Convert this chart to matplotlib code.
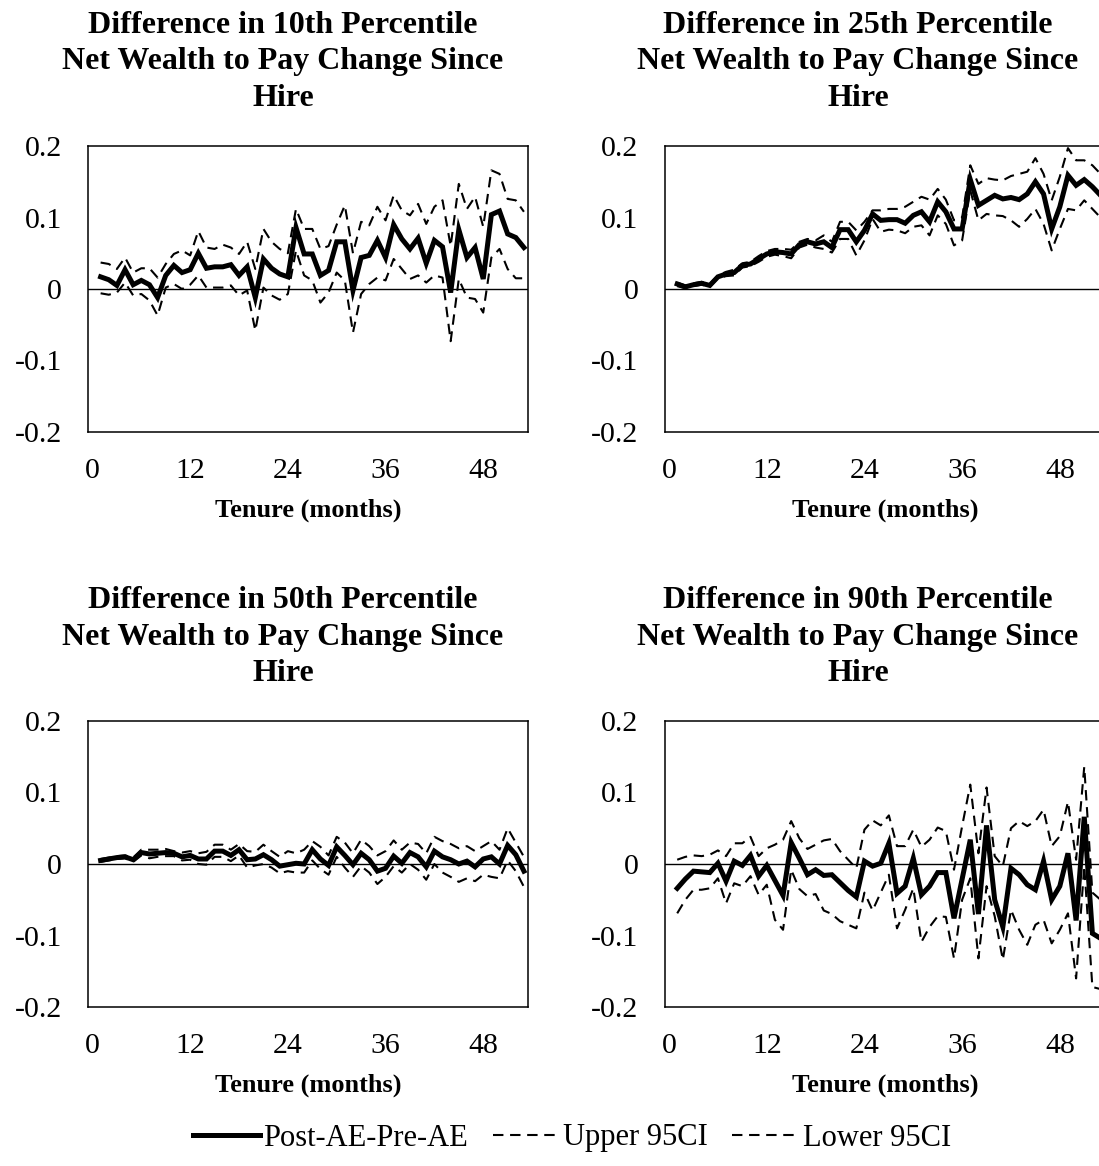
import matplotlib.pyplot as plt
from matplotlib.ticker import FuncFormatter

plt.rcParams['font.family'] = ['Liberation Serif', 'DejaVu Serif']

months = list(range(1, 54))
xticks = [0, 12, 24, 36, 48]
yticks = [-0.2, -0.1, 0, 0.1, 0.2]

# 10th percentile
p10_diff = [0.017, 0.013, 0.005, 0.027, 0.006, 0.012, 0.006, -0.012, 0.019, 0.033,
            0.023, 0.027, 0.050, 0.029, 0.031, 0.031, 0.034, 0.019, 0.031, -0.012,
            0.042, 0.029, 0.021, 0.017, 0.086, 0.049, 0.049, 0.019, 0.026, 0.066,
            0.066, -0.002, 0.044, 0.047, 0.068, 0.044, 0.090, 0.070, 0.056, 0.071,
            0.036, 0.068, 0.059, -0.005, 0.083, 0.044, 0.058, 0.014, 0.104, 0.109,
            0.077, 0.072, 0.058]
p10_upper = [0.037, 0.035, 0.028, 0.044, 0.023, 0.029, 0.029, 0.016, 0.035, 0.049,
             0.054, 0.047, 0.081, 0.058, 0.056, 0.062, 0.058, 0.049, 0.066, 0.028,
             0.084, 0.066, 0.056, 0.050, 0.112, 0.084, 0.084, 0.056, 0.060, 0.090,
             0.117, 0.050, 0.094, 0.089, 0.115, 0.096, 0.131, 0.110, 0.103, 0.119,
             0.091, 0.115, 0.124, 0.060, 0.147, 0.112, 0.129, 0.087, 0.166, 0.161,
             0.126, 0.124, 0.108]
p10_lower = [-0.006, -0.008, -0.005, 0.009, -0.009, -0.007, -0.016, -0.037, 0.002, 0.007,
             0.000, 0.006, 0.019, 0.002, 0.002, 0.002, 0.005, -0.009, -0.002, -0.058,
             0.002, -0.009, -0.015, -0.007, 0.054, 0.019, 0.012, -0.019, -0.005, 0.023,
             0.012, -0.061, -0.007, 0.007, 0.016, 0.012, 0.042, 0.028, 0.014, 0.019,
             0.009, 0.019, 0.016, -0.073, 0.014, -0.012, -0.014, -0.033, 0.044, 0.056,
             0.028, 0.015, 0.015]

# 25th percentile
p25_diff = [0.007, 0.003, 0.006, 0.008, 0.005, 0.017, 0.021, 0.023, 0.033, 0.035,
            0.042, 0.049, 0.052, 0.051, 0.049, 0.062, 0.066, 0.063, 0.066, 0.058,
            0.083, 0.083, 0.066, 0.082, 0.105, 0.096, 0.097, 0.097, 0.092, 0.103,
            0.108, 0.094, 0.122, 0.108, 0.084, 0.084, 0.153, 0.117, 0.124, 0.131,
            0.126, 0.128, 0.125, 0.133, 0.150, 0.133, 0.084, 0.115, 0.159, 0.145,
            0.153, 0.143, 0.131]
p25_upper = [0.009, 0.005, 0.008, 0.010, 0.007, 0.019, 0.024, 0.027, 0.036, 0.038,
             0.046, 0.053, 0.056, 0.056, 0.055, 0.066, 0.070, 0.068, 0.075, 0.066,
             0.094, 0.094, 0.082, 0.094, 0.110, 0.110, 0.112, 0.112, 0.115, 0.122,
             0.129, 0.125, 0.140, 0.125, 0.096, 0.100, 0.173, 0.147, 0.155, 0.153,
             0.152, 0.158, 0.161, 0.164, 0.183, 0.161, 0.124, 0.157, 0.197, 0.180,
             0.180, 0.173, 0.161]
p25_lower = [0.004, 0.001, 0.004, 0.006, 0.003, 0.015, 0.018, 0.019, 0.030, 0.032,
             0.038, 0.045, 0.048, 0.046, 0.043, 0.058, 0.062, 0.058, 0.056, 0.051,
             0.070, 0.070, 0.047, 0.068, 0.098, 0.080, 0.083, 0.082, 0.078, 0.087,
             0.089, 0.075, 0.103, 0.091, 0.061, 0.068, 0.138, 0.096, 0.105, 0.103,
             0.102, 0.096, 0.087, 0.098, 0.112, 0.091, 0.054, 0.084, 0.112, 0.110,
             0.124, 0.112, 0.100]

# 50th percentile
p50_diff = [0.005, 0.007, 0.009, 0.010, 0.006, 0.016, 0.014, 0.015, 0.016, 0.015,
            0.010, 0.012, 0.007, 0.007, 0.018, 0.018, 0.012, 0.020, 0.006, 0.007,
            0.013, 0.006, -0.003, -0.001, 0.001, 0.000, 0.020, 0.007, -0.002, 0.024,
            0.012, -0.001, 0.015, 0.006, -0.010, -0.006, 0.011, 0.001, 0.016, 0.010,
            -0.004, 0.018, 0.010, 0.006, 0.000, 0.004, -0.004, 0.007, 0.010, 0.000,
            0.026, 0.013, -0.010]
p50_upper = [0.007, 0.009, 0.011, 0.012, 0.009, 0.020, 0.020, 0.020, 0.021, 0.018,
             0.016, 0.018, 0.015, 0.017, 0.027, 0.027, 0.020, 0.028, 0.018, 0.017,
             0.027, 0.018, 0.010, 0.018, 0.015, 0.020, 0.032, 0.024, 0.012, 0.038,
             0.030, 0.015, 0.034, 0.025, 0.012, 0.018, 0.033, 0.020, 0.030, 0.028,
             0.015, 0.038, 0.032, 0.028, 0.022, 0.025, 0.018, 0.025, 0.032, 0.020,
             0.050, 0.030, 0.010]
p50_lower = [0.003, 0.005, 0.007, 0.008, 0.003, 0.012, 0.008, 0.010, 0.011, 0.011,
             0.005, 0.006, 0.000, -0.001, 0.010, 0.010, 0.004, 0.012, -0.005, -0.002,
             0.000, -0.005, -0.013, -0.010, -0.012, -0.012, 0.005, -0.007, -0.015, 0.010,
             -0.005, -0.018, -0.003, -0.012, -0.028, -0.018, -0.003, -0.012, 0.000, -0.008,
             -0.022, 0.000, -0.012, -0.018, -0.025, -0.020, -0.024, -0.015, -0.018, -0.020,
             0.005, -0.010, -0.032]

# 90th percentile
p90_diff = [-0.034, -0.021, -0.010, -0.011, -0.012, 0.001, -0.024, 0.004, -0.002, 0.012,
            -0.017, -0.002, -0.023, -0.044, 0.030, 0.008, -0.015, -0.008, -0.016, -0.015,
            -0.026, -0.037, -0.046, 0.004, -0.003, 0.001, 0.029, -0.041, -0.031, 0.008,
            -0.043, -0.031, -0.012, -0.012, -0.076, -0.021, 0.034, -0.070, 0.054, -0.050,
            -0.088, -0.006, -0.015, -0.029, -0.036, 0.004, -0.050, -0.031, 0.015, -0.079,
            0.066, -0.097, -0.104]
p90_upper = [0.006, 0.010, 0.012, 0.011, 0.013, 0.019, 0.011, 0.029, 0.029, 0.038,
             0.011, 0.022, 0.027, 0.034, 0.060, 0.036, 0.021, 0.027, 0.033, 0.035,
             0.018, 0.006, -0.006, 0.048, 0.061, 0.054, 0.068, 0.025, 0.025, 0.048,
             0.024, 0.034, 0.051, 0.046, -0.008, 0.053, 0.111, 0.015, 0.107, 0.011,
             -0.003, 0.050, 0.060, 0.053, 0.060, 0.076, 0.025, 0.039, 0.087, 0.006,
             0.136, -0.040, -0.050]
p90_lower = [-0.069, -0.050, -0.036, -0.036, -0.034, -0.020, -0.055, -0.027, -0.031, -0.017,
             -0.043, -0.029, -0.078, -0.092, -0.008, -0.035, -0.045, -0.042, -0.065, -0.070,
             -0.080, -0.085, -0.090, -0.040, -0.065, -0.040, -0.015, -0.090, -0.064, -0.034,
             -0.109, -0.088, -0.073, -0.074, -0.132, -0.050, -0.020, -0.132, -0.031, -0.073,
             -0.134, -0.064, -0.092, -0.113, -0.085, -0.078, -0.111, -0.092, -0.069, -0.160,
             -0.003, -0.172, -0.175]

panels = [
    ("Difference in 10th Percentile\nNet Wealth to Pay Change Since\nHire", p10_diff, p10_upper, p10_lower),
    ("Difference in 25th Percentile\nNet Wealth to Pay Change Since\nHire", p25_diff, p25_upper, p25_lower),
    ("Difference in 50th Percentile\nNet Wealth to Pay Change Since\nHire", p50_diff, p50_upper, p50_lower),
    ("Difference in 90th Percentile\nNet Wealth to Pay Change Since\nHire", p90_diff, p90_upper, p90_lower),
]

W, H = 1099, 1166
fig = plt.figure(figsize=(W / 100, H / 100), dpi=100)

# axes boxes in pixels: left, top, right, bottom
boxes = [(88.4, 146, 528, 432), (665, 146, 1104.6, 432),
         (88.4, 721, 528, 1007), (665, 721, 1104.6, 1007)]
title_xy = [(283, 62), (858, 62), (283, 637), (858, 637)]

fmt = FuncFormatter(lambda v, p: "0" if abs(v) < 1e-9 else f"{v:g}")
dash = (5, 3.2)

for (title, diff, upper, lower), (l, t, r, b), (tx, ty) in zip(panels, boxes, title_xy):
    ax = fig.add_axes([l / W, 1 - b / H, (r - l) / W, (b - t) / H])
    ax.axhline(0, color='black', lw=1.0, zorder=1)
    ax.plot(months, diff, color='black', lw=3.6, solid_joinstyle='miter', zorder=2,
            label='Post-AE-Pre-AE')
    ax.plot(months, upper, color='black', lw=1.5, dashes=dash, zorder=3,
            label='Upper 95CI')
    ax.plot(months, lower, color='black', lw=1.5, dashes=dash, zorder=3,
            label='Lower 95CI')
    ax.set_xlim(-0.5, 53.5)
    ax.set_ylim(-0.2, 0.2)
    ax.set_xticks(xticks)
    ax.set_yticks(yticks)
    ax.yaxis.set_major_formatter(fmt)
    ax.tick_params(axis='both', length=0, labelsize=21.5)
    ax.tick_params(axis='x', pad=19)
    ax.tick_params(axis='y', pad=19)
    for s in ax.spines.values():
        s.set_linewidth(1.1)
        s.set_color('black')
    ax.text(0.5, -0.273, 'Tenure (months)', transform=ax.transAxes, ha='center',
            va='center', fontsize=19, fontweight='bold')
    fig.text(tx / W, 1 - ty / H, title, ha='center', va='center', fontsize=23,
             fontweight='bold', linespacing=1.32)

handles, labels = fig.axes[0].get_legend_handles_labels()
fig.legend(handles, labels, loc='center', bbox_to_anchor=(572 / W, 1 - 1138 / H),
           ncol=3, frameon=False, fontsize=22, handlelength=2.2, handletextpad=0.1,
           columnspacing=0.8)

fig.savefig('out.png', dpi=100)
